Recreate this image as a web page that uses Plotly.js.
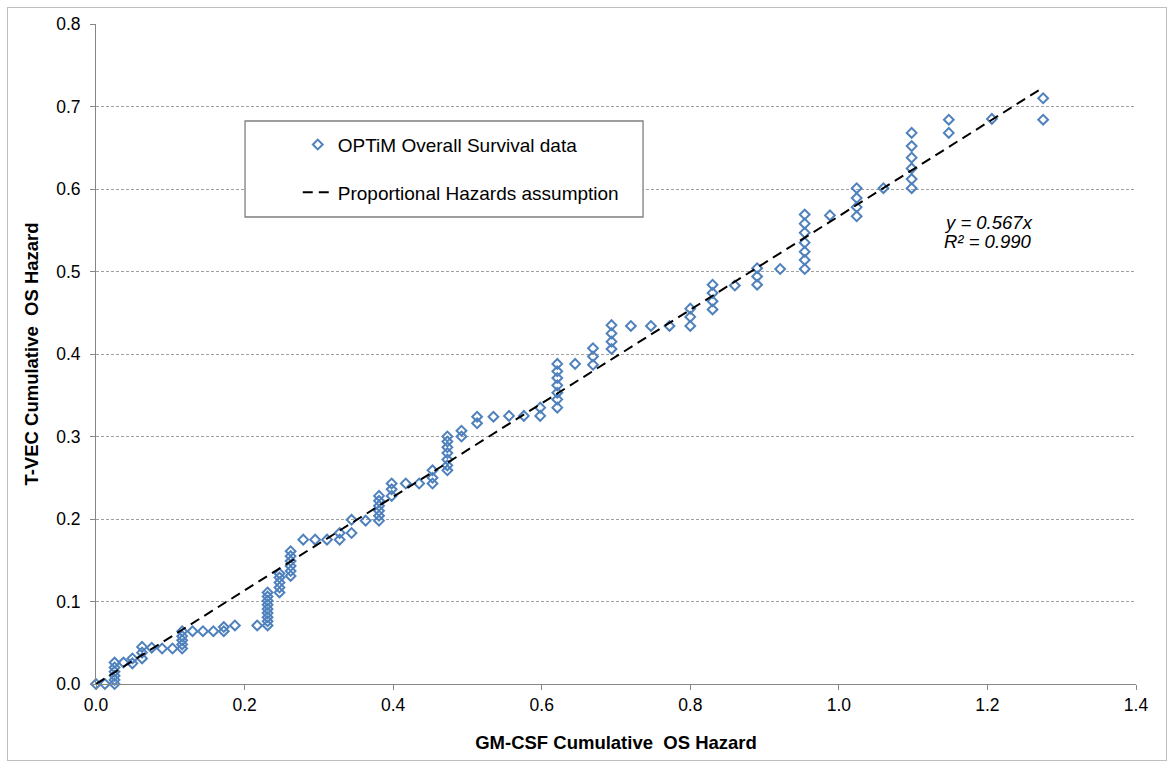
<!DOCTYPE html>
<html>
<head>
<meta charset="utf-8">
<script src="https://cdn.plot.ly/plotly-3.0.1.min.js"></script>
<style>
  html, body { margin: 0; padding: 0; background: #ffffff; }
  #wrap { position: relative; width: 1173px; height: 767px; }
  #chart { position: absolute; left: 0; top: 0; width: 1173px; height: 767px; }
  #frame { position: absolute; left: 7px; top: 7px; width: 1158px; height: 752px;
           border: 1px solid #bfbfbf; pointer-events: none; }
</style>
</head>
<body>
<div id="wrap"><div id="chart"></div><div id="frame"></div></div>
<script>
// GM-CSF cumulative OS hazard (x) vs T-VEC cumulative OS hazard (y)
const gmcsfHazard = [
  0, 0.012,
  0.025, 0.025, 0.025, 0.025, 0.025, 0.025,
  0.037,
  0.049, 0.049,
  0.062, 0.062, 0.062,
  0.075, 0.089, 0.103,
  0.116, 0.116, 0.116, 0.116, 0.116,
  0.130, 0.144, 0.158,
  0.172, 0.172,
  0.187, 0.217,
  0.231, 0.231, 0.231, 0.231, 0.231, 0.231, 0.231, 0.231, 0.231,
  0.247, 0.247, 0.247, 0.247, 0.247,
  0.262, 0.262, 0.262, 0.262, 0.262, 0.262,
  0.279, 0.295, 0.311,
  0.328, 0.328,
  0.344, 0.344,
  0.363,
  0.381, 0.381, 0.381, 0.381, 0.381, 0.381,
  0.398, 0.398, 0.398,
  0.417, 0.435,
  0.453, 0.453, 0.453,
  0.473, 0.473, 0.473, 0.473, 0.473, 0.473, 0.473,
  0.492, 0.492,
  0.513, 0.513,
  0.535, 0.556, 0.576,
  0.598, 0.598,
  0.621, 0.621, 0.621, 0.621, 0.621, 0.621, 0.621,
  0.645,
  0.669, 0.669, 0.669,
  0.694, 0.694, 0.694, 0.694,
  0.720, 0.747, 0.772,
  0.800, 0.800, 0.800,
  0.830, 0.830, 0.830, 0.830,
  0.860,
  0.890, 0.890, 0.890,
  0.921,
  0.954, 0.954, 0.954, 0.954, 0.954, 0.954, 0.954,
  0.988,
  1.024, 1.024, 1.024, 1.024,
  1.060,
  1.098, 1.098, 1.098, 1.098, 1.098, 1.098,
  1.148, 1.148,
  1.206,
  1.275, 1.275
];
const tvecHazard = [
  0, 0,
  0, 0.005, 0.010, 0.015, 0.020, 0.026,
  0.026,
  0.025, 0.031,
  0.031, 0.038, 0.045,
  0.044, 0.043, 0.043,
  0.043, 0.048, 0.053, 0.058, 0.064,
  0.064, 0.064, 0.064,
  0.064, 0.069,
  0.071, 0.071,
  0.071, 0.076, 0.081, 0.086, 0.091, 0.096, 0.101, 0.106, 0.111,
  0.111, 0.117, 0.123, 0.129, 0.134,
  0.131, 0.137, 0.143, 0.149, 0.155, 0.161,
  0.175, 0.175, 0.175,
  0.175, 0.183,
  0.183, 0.199,
  0.198,
  0.198, 0.204, 0.210, 0.216, 0.222, 0.228,
  0.228, 0.236, 0.243,
  0.243, 0.243,
  0.243, 0.250, 0.259,
  0.259, 0.265, 0.272, 0.280, 0.287, 0.294, 0.300,
  0.300, 0.307,
  0.316, 0.324,
  0.324, 0.325, 0.325,
  0.325, 0.335,
  0.335, 0.345, 0.353, 0.362, 0.371, 0.379, 0.388,
  0.388,
  0.387, 0.397, 0.407,
  0.406, 0.415, 0.425, 0.435,
  0.434, 0.434, 0.434,
  0.434, 0.445, 0.455,
  0.454, 0.464, 0.474, 0.484,
  0.483,
  0.484, 0.494, 0.504,
  0.503,
  0.503, 0.514, 0.524, 0.535, 0.547, 0.558, 0.569,
  0.568,
  0.567, 0.578, 0.589, 0.601,
  0.601,
  0.601, 0.612, 0.625, 0.638, 0.652, 0.668,
  0.668, 0.684,
  0.685,
  0.684, 0.710
];
// Proportional hazards fit line y = 0.567x (end points)
const fitX = [0, 1.275];
const fitY = [0, 0.723];

const xTicks = [0, 0.2, 0.4, 0.6, 0.8, 1.0, 1.2, 1.4];
const xTickLabels = ['0.0', '0.2', '0.4', '0.6', '0.8', '1.0', '1.2', '1.4'];
const yTicks = [0, 0.1, 0.2, 0.3, 0.4, 0.5, 0.6, 0.7, 0.8];
const yTickLabels = ['0.0', '0.1', '0.2', '0.3', '0.4', '0.5', '0.6', '0.7', '0.8'];

const FONT = 'Liberation Sans, Arial, sans-serif';

const traces = [
  {
    type: 'scatter', mode: 'markers',
    x: gmcsfHazard, y: tvecHazard,
    name: 'OPTiM Overall Survival data',
    legendgroup: 'a',
    marker: { symbol: 'diamond-open', size: 7.5, color: '#4F81BD', line: { width: 2, color: '#4F81BD' } },
    cliponaxis: false
  },
  {
    type: 'scatter', mode: 'lines',
    x: fitX, y: fitY,
    name: 'Proportional Hazards assumption',
    legendgroup: 'b',
    line: { color: '#000000', width: 2, dash: '10px,6px' }
  }
];

const layout = {
  width: 1173, height: 767,
  margin: { l: 96, r: 37, t: 24, b: 83 },
  paper_bgcolor: 'rgba(0,0,0,0)',
  plot_bgcolor: '#ffffff',
  font: { family: FONT, color: '#000000', size: 17 },
  showlegend: true,
  legend: {
    x: 0.194, y: 0.846, xanchor: 'left', yanchor: 'top',
    bgcolor: 'rgba(0,0,0,0)', borderwidth: 0,
    font: { family: FONT, size: 19, color: '#000000' },
    tracegroupgap: 20,
    itemwidth: 30
  },
  xaxis: {
    range: [0, 1.4],
    tickvals: xTicks, ticktext: xTickLabels,
    showline: true, linecolor: '#868686', linewidth: 1,
    ticks: 'outside', ticklen: 5, tickcolor: '#868686',
    showgrid: false, zeroline: false,
    tickfont: { family: FONT, size: 17.5, color: '#000000' },
    title: { text: '<b>GM-CSF Cumulative  OS Hazard</b>', font: { family: FONT, size: 18.5, color: '#000000' }, standoff: 22 }
  },
  yaxis: {
    range: [0, 0.8],
    tickvals: yTicks, ticktext: yTickLabels,
    showline: true, linecolor: '#868686', linewidth: 1,
    ticks: 'outside', ticklen: 5, tickcolor: '#868686',
    showgrid: true, gridcolor: '#a0a0a0', gridwidth: 1, griddash: '3px,2px',
    zeroline: false,
    ticklabelstandoff: 6,
    tickfont: { family: FONT, size: 17.5, color: '#000000' },
    title: { text: '<b>T-VEC Cumulative  OS Hazard</b>', font: { family: FONT, size: 18.5, color: '#000000' }, standoff: 12 }
  },
  shapes: [
    {
      type: 'rect', xref: 'paper', yref: 'paper',
      x0: 0.1433, x1: 0.526, y0: 0.7076, y1: 0.853,
      line: { color: '#7f7f7f', width: 1.3 }, fillcolor: '#ffffff', layer: 'above'
    }
  ],
  annotations: [
    {
      xref: 'paper', yref: 'paper', x: 0.813, y: 0.7, xanchor: 'left', yanchor: 'middle',
      text: '<i>y = 0.567x</i>', showarrow: false, align: 'left',
      font: { family: FONT, size: 18.5, color: '#000000' }
    },
    {
      xref: 'paper', yref: 'paper', x: 0.813, y: 0.67, xanchor: 'left', yanchor: 'middle',
      text: '<i>R² = 0.990</i>', showarrow: false, align: 'left',
      font: { family: FONT, size: 18.5, color: '#000000' }
    }
  ]
};

Plotly.newPlot('chart', traces, layout, { displayModeBar: false, staticPlot: true });
</script>
</body>
</html>
